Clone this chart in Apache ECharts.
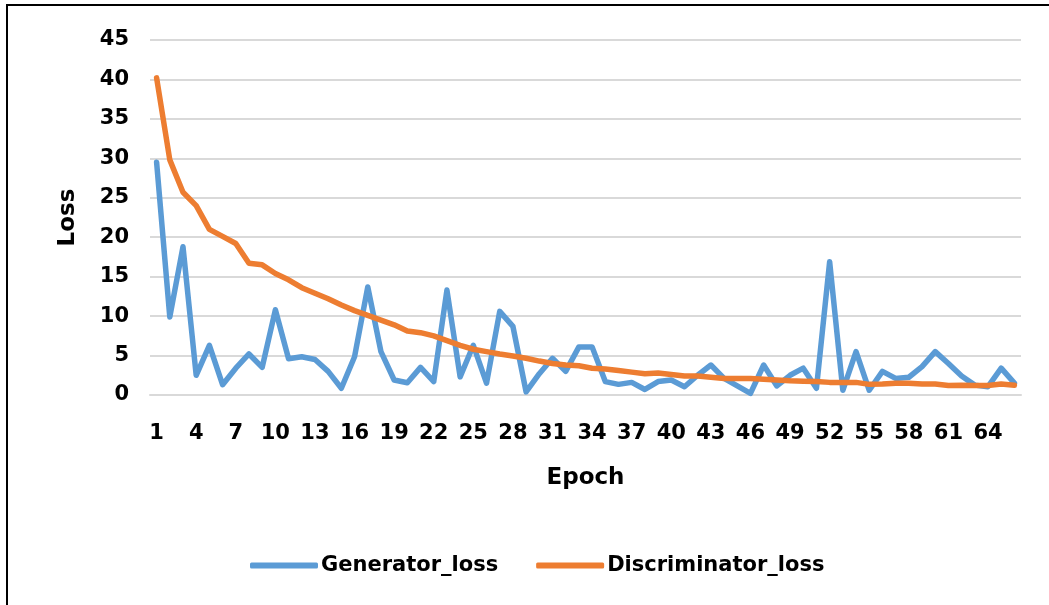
<!DOCTYPE html>
<html>
<head>
<meta charset="utf-8">
<script src="https://cdn.jsdelivr.net/npm/echarts@6/dist/echarts.min.js"></script>
<style>
  html, body { margin: 0; padding: 0; background: #fff; }
  #chart { width: 1049px; height: 605px; }
  #frame {
    position: absolute; left: 6px; top: 4px; width: 1043px; height: 601px;
    border-top: 2px solid #000; border-left: 2px solid #000;
    box-sizing: border-box; pointer-events: none;
  }
</style>
</head>
<body>
<div id="chart"></div>
<div id="frame"></div>
<script>
// epochs 1..66
const epochs = Array.from({ length: 66 }, (_, i) => String(i + 1))

const generatorLoss = [
  29.5, 9.9, 18.8, 2.5, 6.3, 1.3, 3.4, 5.2, 3.5, 10.8,
  4.6, 4.85, 4.5, 3.0, 0.85, 4.85, 13.7, 5.5, 1.9, 1.55,
  3.5, 1.7, 13.3, 2.3, 6.3, 1.5, 10.6, 8.7, 0.4, 2.7,
  4.65, 3.0, 6.1, 6.1, 1.7, 1.35, 1.6, 0.7, 1.7, 1.9,
  1.05, 2.5, 3.8, 2.1, 1.15, 0.2, 3.8, 1.15, 2.5, 3.4,
  0.85, 16.9, 0.6, 5.5, 0.6, 3.0, 2.1, 2.25, 3.6, 5.5,
  4.0, 2.4, 1.25, 1.05, 3.4, 1.5
]

const discriminatorLoss = [
  40.2, 29.8, 25.7, 24.0, 21.0, 20.1, 19.2, 16.7, 16.5, 15.4,
  14.6, 13.6, 12.9, 12.2, 11.4, 10.7, 10.1, 9.5, 8.9, 8.1,
  7.9, 7.5, 6.9, 6.3, 5.8, 5.5, 5.2, 4.95, 4.65, 4.3,
  4.0, 3.8, 3.7, 3.4, 3.3, 3.1, 2.9, 2.7, 2.8, 2.6,
  2.4, 2.4, 2.25, 2.1, 2.1, 2.1, 2.0, 1.9, 1.8, 1.75,
  1.7, 1.6, 1.6, 1.6, 1.35, 1.4, 1.5, 1.5, 1.4, 1.4,
  1.2, 1.25, 1.2, 1.2, 1.4, 1.25
]

const FONT = 'DejaVu Sans'
const chart = echarts.init(document.getElementById('chart'), null, { renderer: 'canvas' })

chart.setOption({
  animation: false,
  grid: { left: 150, right: 28, top: 40, bottom: 210 },
  legend: {
    left: 245,
    top: 550,
    itemWidth: 68,
    itemHeight: 6,
    itemGap: 38,
    icon: 'roundRect',
    textStyle: { fontFamily: FONT, fontWeight: 'bold', fontSize: 21, color: '#000', padding: [0, 0, 0, -2] },
    data: ['Generator_loss', 'Discriminator_loss']
  },
  xAxis: {
    type: 'category',
    data: epochs,
    boundaryGap: true,
    name: 'Epoch',
    nameLocation: 'middle',
    nameGap: 72,
    nameTextStyle: { fontFamily: FONT, fontWeight: 'bold', fontSize: 23, color: '#000' },
    axisLine: { show: true, lineStyle: { color: '#d9d9d9', width: 2 } },
    axisTick: { show: false },
    axisLabel: {
      interval: 2,
      margin: 28,
      fontFamily: FONT, fontWeight: 'bold', fontSize: 21, color: '#000'
    }
  },
  yAxis: {
    type: 'value',
    min: 0,
    max: 45,
    interval: 5,
    name: 'Loss',
    nameLocation: 'middle',
    nameGap: 70,
    nameRotate: 90,
    nameTextStyle: { fontFamily: FONT, fontWeight: 'bold', fontSize: 23, color: '#000' },
    axisLine: { show: false },
    axisTick: { show: false },
    axisLabel: { margin: 21, fontFamily: FONT, fontWeight: 'bold', fontSize: 21, color: '#000' },
    splitLine: { lineStyle: { color: '#d9d9d9', width: 2 } }
  },
  series: [
    {
      name: 'Generator_loss',
      type: 'line',
      data: generatorLoss,
      symbol: 'none',
      lineStyle: { color: '#5b9bd5', width: 5.5, join: 'round', cap: 'round' },
      itemStyle: { color: '#5b9bd5' }
    },
    {
      name: 'Discriminator_loss',
      type: 'line',
      data: discriminatorLoss,
      symbol: 'none',
      lineStyle: { color: '#ed7d31', width: 5.5, join: 'round', cap: 'round' },
      itemStyle: { color: '#ed7d31' }
    }
  ]
})
</script>
</body>
</html>
